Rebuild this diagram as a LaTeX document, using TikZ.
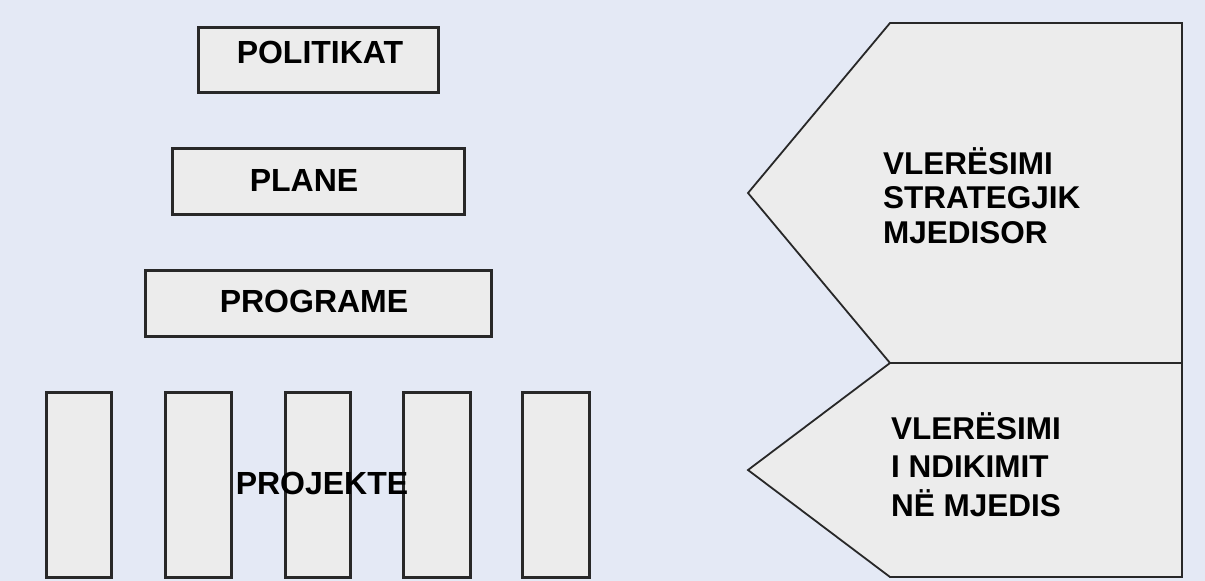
\documentclass[tikz,border=0pt]{standalone}
\usepackage{fontspec}
\setmainfont{Liberation Sans}
\definecolor{bgcol}{RGB}{228,233,245}
\definecolor{boxfill}{RGB}{236,236,236}
\definecolor{edge}{RGB}{40,40,40}
\begin{document}
\begin{tikzpicture}[x=1pt,y=-1pt,
  boxstyle/.style={fill=boxfill,draw=edge,line width=3pt},
  arrowshape/.style={fill=boxfill,draw=edge,line width=1.8pt,line join=miter},
  lbl/.style={font=\fontsize{32}{36}\selectfont\bfseries,text=black,inner sep=0pt,anchor=base},
  rlbl/.style={font=\fontsize{31.5}{36}\selectfont\bfseries,text=black,inner sep=0pt,anchor=base west}]
\fill[bgcol] (0,0) rectangle (1205,581);
\useasboundingbox (0,0) rectangle (1205,581);
% left boxes
\draw[boxstyle] (198,27) rectangle (438,92);
\node[lbl] (politikat) at (320,63) {POLITIKAT};
\draw[boxstyle] (172,148) rectangle (464,214);
\node[lbl] (plane) at (304,191) {PLANE};
\draw[boxstyle] (145,270) rectangle (491,336);
\node[lbl] (programe) at (314,312) {PROGRAME};
% project bars
\foreach \xa/\xb in {46/111, 165/231, 285/350, 403/470, 522/589}
  \draw[boxstyle] (\xa,392) rectangle (\xb,577);
\node[lbl] (projekte) at (322,494) {PROJEKTE};
% right pentagons
\draw[arrowshape] (890,23) -- (1182,23) -- (1182,363) -- (890,363) -- (748,193) -- cycle;
\draw[arrowshape] (890,363) -- (1182,363) -- (1182,577) -- (890,577) -- (748,470) -- cycle;
\node[rlbl] (v1) at (883,174) {VLERËSIMI};
\node[rlbl] (v2) at (883,208) {STRATEGJIK};
\node[rlbl] (v3) at (883,243) {MJEDISOR};
\node[rlbl] (w1) at (891,439) {VLERËSIMI};
\node[rlbl] (w2) at (891,477) {I NDIKIMIT};
\node[rlbl] (w3) at (891,516) {NË MJEDIS};
\end{tikzpicture}
\end{document}
